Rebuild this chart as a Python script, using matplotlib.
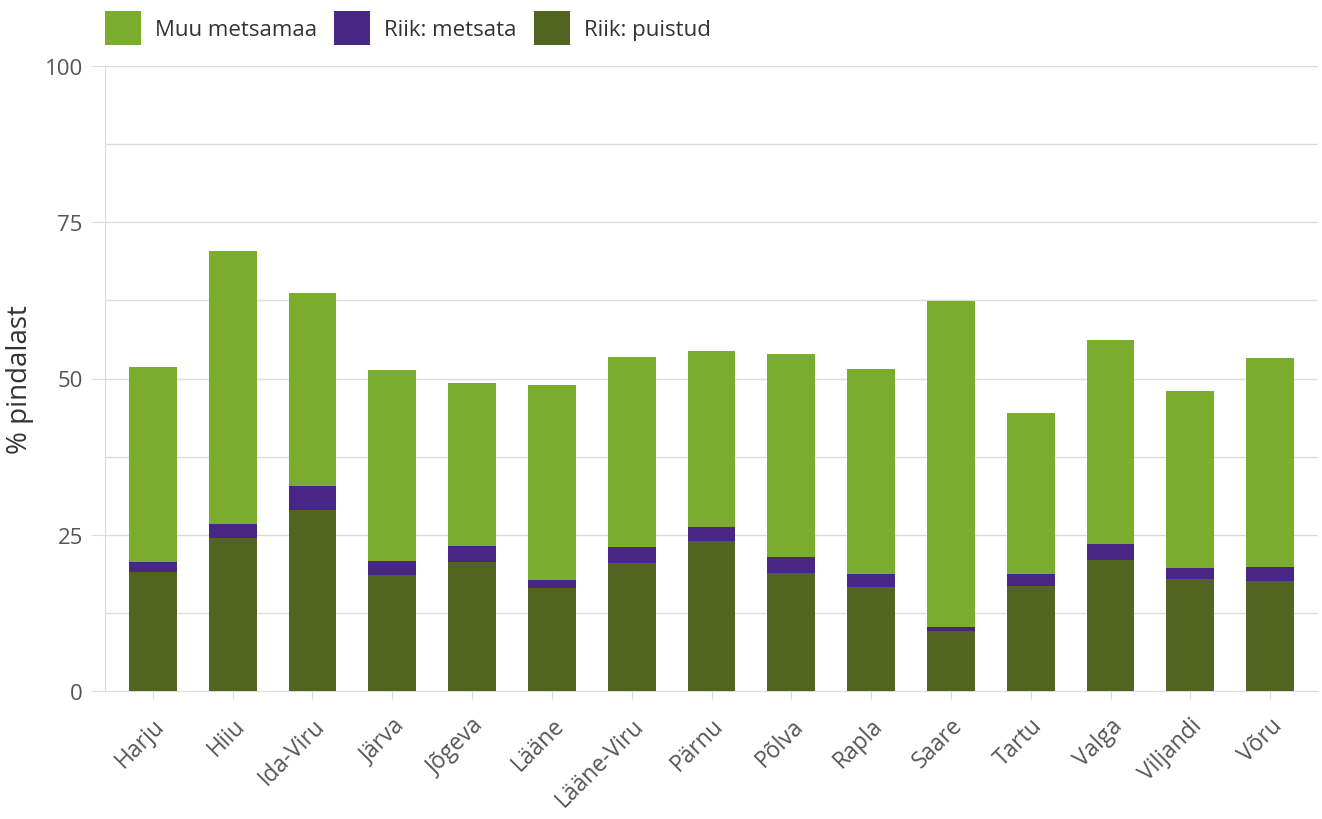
import matplotlib.pyplot as plt
import numpy as np

plt.rcParams['font.family'] = ['Open Sans', 'DejaVu Sans']

maakonnad = ['Harju', 'Hiiu', 'Ida-Viru', 'Järva', 'Jõgeva', 'Lääne', 'Lääne-Viru',
             'Pärnu', 'Põlva', 'Rapla', 'Saare', 'Tartu', 'Valga', 'Viljandi', 'Võru']
riik_puistud = [19.0, 24.5, 29.0, 18.6, 20.6, 16.5, 20.5, 24.0, 18.9, 16.6, 9.6, 16.8, 21.0, 17.9, 17.6]
riik_metsata = [1.6, 2.2, 3.8, 2.2, 2.6, 1.3, 2.5, 2.2, 2.5, 2.1, 0.6, 1.9, 2.5, 1.8, 2.2]
muu_metsamaa = [31.2, 43.7, 30.9, 30.6, 26.1, 31.2, 30.4, 28.2, 32.5, 32.8, 52.2, 25.8, 32.7, 28.3, 33.5]

c_muu = '#7aac2e'
c_metsata = '#482683'
c_puistud = '#516520'

fig = plt.figure(figsize=(13.22, 8.2), dpi=100)
ax = fig.add_axes([105/1322, 1-692/820, 1213/1322, 625/820])

x = np.arange(len(maakonnad))
w = 0.6
p = np.array(riik_puistud)
m = np.array(riik_metsata)
b1 = ax.bar(x, p, w, color=c_puistud, label='Riik: puistud', zorder=3)
b2 = ax.bar(x, m, w, bottom=p, color=c_metsata, label='Riik: metsata', zorder=3)
b3 = ax.bar(x, muu_metsamaa, w, bottom=p + m, color=c_muu, label='Muu metsamaa', zorder=3)

ax.set_xlim(-0.6, len(maakonnad) - 0.4)
ax.set_ylim(0, 100)
ax.set_yticks([0, 25, 50, 75, 100])
ax.set_yticks([12.5, 37.5, 62.5, 87.5], minor=True)
ax.grid(axis='y', which='both', color='#dcdcdc', lw=1, zorder=0)
ax.tick_params(axis='y', which='major', length=10, color='#dcdcdc', labelsize=16, labelcolor='#555555', pad=6)
ax.tick_params(axis='y', which='minor', length=0)
ax.set_xticks(x)
ax.set_xticklabels(maakonnad, rotation=45, ha='right', rotation_mode='anchor')
ax.tick_params(axis='x', length=6, color='#dcdcdc', labelsize=16.5, labelcolor='#555555', pad=10)
for s in ['top', 'right']:
    ax.spines[s].set_visible(False)
ax.spines['left'].set_color('#dcdcdc')
ax.spines['bottom'].set_color('#dcdcdc')
fig.text(20/1322, 1-380/820, '% pindalast', rotation=90, ha='center', va='center',
         fontsize=20, color='#333333')

ax.legend(handles=[b3, b2, b1], loc='lower left', bbox_to_anchor=(-0.013, 1.009), ncol=3,
          frameon=False, fontsize=16, handlelength=1.62, handleheight=1.95,
          handletextpad=0.65, columnspacing=0.75, labelcolor='#333333', borderaxespad=0.3)

fig.savefig('out.png', dpi=100)
